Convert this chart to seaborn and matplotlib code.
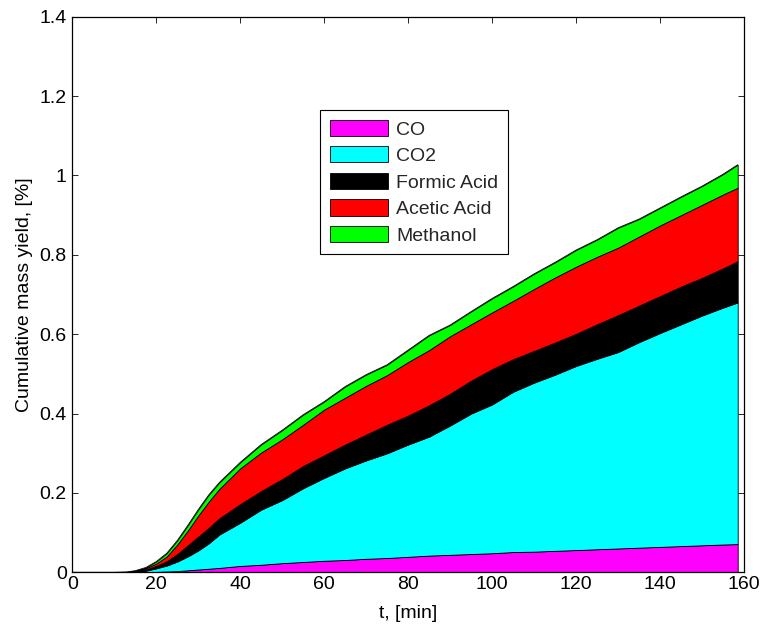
import numpy as np
import pandas as pd
import matplotlib
matplotlib.use("Agg")
import matplotlib.pyplot as plt
import seaborn as sns
from matplotlib.ticker import FuncFormatter

# ---- data (cumulative boundary levels) ----
t = [0, 5, 10, 13, 15, 17.5, 20, 22.5, 25, 27.5, 30, 32.5, 35,
     40, 45, 50, 55, 60, 65, 70, 75, 80, 85, 90, 95, 100, 105, 110,
     115, 120, 125, 130, 135, 140, 145, 150, 155, 158.5]

co_top = [0, 0, 0, 0, 0, 0, 0.001, 0.002, 0.003, 0.005, 0.007, 0.009, 0.011,
          0.016, 0.019, 0.023, 0.026, 0.029, 0.031, 0.034, 0.036, 0.039, 0.042,
          0.044, 0.046, 0.048, 0.051, 0.052, 0.054, 0.056, 0.058, 0.060, 0.062,
          0.064, 0.066, 0.068, 0.070, 0.071]

co2_top = [0, 0, 0, 0, 0.001, 0.004, 0.010, 0.017, 0.027, 0.040, 0.055, 0.073, 0.095,
           0.125, 0.158, 0.182, 0.212, 0.238, 0.262, 0.282, 0.300, 0.322, 0.342,
           0.370, 0.400, 0.423, 0.455, 0.478, 0.498, 0.520, 0.538, 0.555, 0.580,
           0.603, 0.625, 0.647, 0.667, 0.680]

formic_top = [0, 0, 0, 0, 0.002, 0.007, 0.016, 0.028, 0.046, 0.068, 0.090, 0.112, 0.136,
              0.172, 0.205, 0.235, 0.268, 0.295, 0.322, 0.347, 0.372, 0.395, 0.421,
              0.450, 0.483, 0.512, 0.537, 0.558, 0.579, 0.601, 0.625, 0.648, 0.672,
              0.696, 0.720, 0.742, 0.766, 0.784]

acetic_top = [0, 0, 0, 0, 0.003, 0.010, 0.022, 0.040, 0.070, 0.105, 0.143, 0.178, 0.210,
              0.262, 0.302, 0.335, 0.372, 0.410, 0.440, 0.470, 0.497, 0.530, 0.560,
              0.595, 0.625, 0.655, 0.684, 0.714, 0.743, 0.770, 0.795, 0.818, 0.846,
              0.874, 0.900, 0.926, 0.952, 0.969]

methanol_top = [0, 0, 0, 0.001, 0.004, 0.012, 0.027, 0.048, 0.080, 0.118, 0.158, 0.195, 0.226,
                0.277, 0.322, 0.358, 0.397, 0.430, 0.468, 0.498, 0.523, 0.560, 0.597,
                0.623, 0.657, 0.690, 0.720, 0.752, 0.781, 0.812, 0.838, 0.868, 0.890,
                0.918, 0.946, 0.973, 1.003, 1.027]

species = ["CO", "CO2", "Formic Acid", "Acetic Acid", "Methanol"]
colors = ["#FF00FF", "#00FFFF", "#000000", "#FF0000", "#00FF00"]

x_ticks = [0, 20, 40, 60, 80, 100, 120, 140, 160]
y_ticks = [0, 0.2, 0.4, 0.6, 0.8, 1.0, 1.2, 1.4]

# ---- styling ----
sns.set_theme(style="white")
plt.rcParams["font.family"] = ["Liberation Sans", "DejaVu Sans"]
FS = 14
plt.rcParams["font.size"] = FS

fig = plt.figure(figsize=(7.63, 6.24), dpi=100)
ax = fig.add_axes([0.0948, 0.0829, 0.8803, 0.8903])

df = pd.DataFrame({"t": t, "CO": co_top, "CO2": co2_top, "Formic Acid": formic_top,
                   "Acetic Acid": acetic_top, "Methanol": methanol_top})

lower = np.zeros(len(t))
for name, col in zip(species, colors):
    upper = df[name].to_numpy()
    ax.fill_between(df["t"], lower, upper, facecolor=col, edgecolor="black",
                    linewidth=0.6, label=name)
    lower = upper

# outline of the top boundary via seaborn
sns.lineplot(data=df, x="t", y="Methanol", color="black", linewidth=0.6, ax=ax,
             legend=False)

ax.set_xlim(0, 160)
ax.set_ylim(0, 1.4)
ax.set_xticks(x_ticks)
ax.set_yticks(y_ticks)
ax.yaxis.set_major_formatter(FuncFormatter(lambda v, p: f"{v:g}"))
ax.xaxis.set_major_formatter(FuncFormatter(lambda v, p: f"{v:g}"))
ax.tick_params(direction="in", length=4.5, width=0.6, top=True, right=True,
               bottom=True, left=True, labelsize=FS, colors="black")
ax.tick_params(axis="y", pad=4)
ax.tick_params(axis="x", pad=3)
for s in ax.spines.values():
    s.set_color("black")
    s.set_linewidth(0.9)
    s.set_visible(True)

ax.set_xlabel("t, [min]", fontsize=FS, color="black", labelpad=8)
ax.set_ylabel("Cumulative mass yield, [%]", fontsize=FS, color="black", labelpad=5)

leg = ax.legend(loc="upper left", bbox_to_anchor=(0.369, 0.832), frameon=True,
                fancybox=False, edgecolor="black", framealpha=1,
                handlelength=3.0, handleheight=0.9, labelspacing=0.4,
                handletextpad=0.4, borderpad=0.5, borderaxespad=0, fontsize=FS)
leg.get_frame().set_linewidth(0.8)

fig.savefig("out.png", dpi=100)
